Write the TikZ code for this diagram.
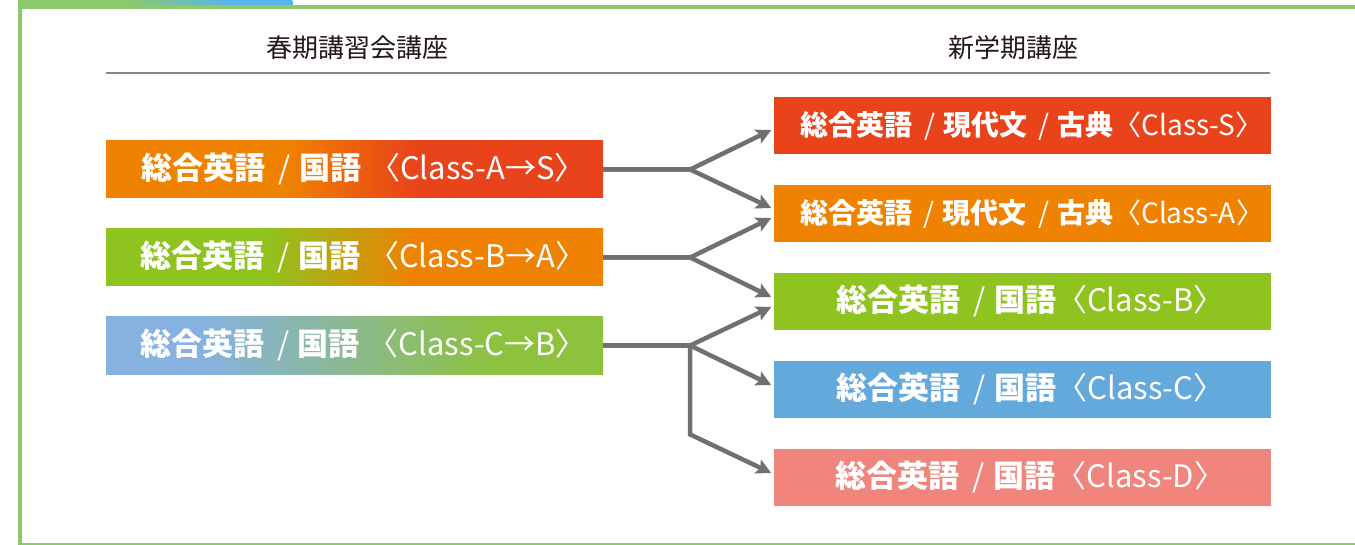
\documentclass[tikz,border=0pt]{standalone}
\usepackage{fontspec}
\setmainfont{Noto Sans CJK JP}
\usetikzlibrary{arrows.meta,calc}
\definecolor{cRed}{HTML}{E9431B}
\definecolor{cOrange}{HTML}{EF8200}
\definecolor{cGreen}{HTML}{8FC31F}
\definecolor{cBlue}{HTML}{64A9DC}
\definecolor{cPink}{HTML}{EF857D}
\definecolor{cLBlue}{HTML}{87B2E0}
\definecolor{cLGreen}{HTML}{8EC13E}
\definecolor{frameG}{HTML}{8CC96D}
\definecolor{tabB}{HTML}{5AB4E8}
\definecolor{arrowG}{HTML}{707070}
\definecolor{ruleG}{HTML}{888888}
\definecolor{headC}{HTML}{231815}
\pgfdeclarehorizontalshading{shA}{100bp}{color(0bp)=(cOrange); color(43bp)=(cOrange); color(56bp)=(cRed); color(100bp)=(cRed)}
\pgfdeclarehorizontalshading{shB}{100bp}{color(0bp)=(cGreen); color(41bp)=(cGreen); color(56bp)=(cOrange); color(100bp)=(cOrange)}
\pgfdeclarehorizontalshading{shC}{100bp}{color(0bp)=(cLBlue); color(35bp)=(cLBlue); color(64bp)=(cLGreen); color(100bp)=(cLGreen)}
\pgfdeclarehorizontalshading{shTab}{100bp}{color(0bp)=(frameG); color(45bp)=(frameG); color(63bp)=(tabB); color(100bp)=(tabB)}
\newcommand{\jb}[1]{{\bfseries #1}}
\newcommand{\slsep}{\hspace{0.42em}/\hspace{0.28em}}
\begin{document}
\begin{tikzpicture}[x=1pt,y=-1pt,
  box/.style={minimum width=497pt,minimum height=57pt,inner sep=0pt,text=white,font=\fontsize{31}{35}\selectfont},
  boxs/.style={box,font=\fontsize{28}{32}\selectfont},
  head/.style={text=headC,font=\fontsize{26}{30}\selectfont,inner sep=0pt},
  conn/.style={draw=arrowG,line width=4.5pt,-{Stealth[length=15pt,width=15pt,inset=3pt]}},
  rulel/.style={draw=ruleG,line width=1.3pt},
  framel/.style={draw=frameG,line width=3.6pt}]
\useasboundingbox (0,0) rectangle (1355,545);
% frame and tab
\coordinate (ftr) at (1360,6.8);
\coordinate (ftl) at (20,6.8);
\coordinate (fbl) at (20,544.3);
\coordinate (fbr) at (1360,544.3);
\shade[shading=shTab] (18.2,-1) rectangle (292.3,5.2);
\draw[framel] (ftr) -- (ftl) -- (fbl);
\draw[draw=frameG,line width=2.4pt] (18.2,544.3) -- (fbr);
% headings
\node[head] (h1) at (357,48) {春期講習会講座};
\node[head] (h2) at (1013,48) {新学期講座};
\coordinate (r1) at (106,73);
\coordinate (r2) at (1270,73);
\draw[rulel] (r1) -- (r2);
% left boxes
\node[box,shading=shA] (L1) at (354.5,169.5) {\hspace{18pt}\jb{総合英語}\slsep\jb{国語}\hspace{0.25em}〈Class-A→S〉};
\node[box,shading=shB] (L2) at (354.5,257.5) {\hspace{18pt}\jb{総合英語}\slsep\jb{国語}\hspace{0.25em}〈Class-B→A〉};
\node[box,shading=shC] (L3) at (354.5,345.5) {\hspace{18pt}\jb{総合英語}\slsep\jb{国語}\hspace{0.25em}〈Class-C→B〉};
% right boxes
\node[boxs,fill=cRed] (R1) at (1022,125.5) {\hspace{20pt}\jb{総合英語}\slsep\jb{現代文}\slsep\jb{古典}〈Class-S〉};
\node[boxs,fill=cOrange] (R2) at (1022,213.5) {\hspace{20pt}\jb{総合英語}\slsep\jb{現代文}\slsep\jb{古典}〈Class-A〉};
\node[box,fill=cGreen] (R3) at (1022,301.5) {\hspace{17pt}\jb{総合英語}\slsep\jb{国語}〈Class-B〉};
\node[box,fill=cBlue] (R4) at (1022,389.5) {\hspace{17pt}\jb{総合英語}\slsep\jb{国語}〈Class-C〉};
\node[box,fill=cPink] (R5) at (1022,477.5) {\hspace{17pt}\jb{総合英語}\slsep\jb{国語}〈Class-D〉};
% branch points
\coordinate (b1) at ($(L1.east)+(87,0)$);
\coordinate (b2) at ($(L2.east)+(87,0)$);
\coordinate (b3) at ($(L3.east)+(87,0)$);
\coordinate (k3) at ($(b3)+(0,89)$);
% connectors
\draw[conn] (L1.east) -- (b1) -- ($(R1.west)+(-2,4.5)$);
\draw[conn] (L1.east) -- (b1) -- ($(R2.west)+(-2,-5.5)$);
\draw[conn] (L2.east) -- (b2) -- ($(R2.west)+(-2,4.5)$);
\draw[conn] (L2.east) -- (b2) -- ($(R3.west)+(-2,-4.5)$);
\draw[conn] (L3.east) -- (b3) -- ($(R3.west)+(-2,5.5)$);
\draw[conn] (L3.east) -- (b3) -- ($(R4.west)+(-2,-4.5)$);
\draw[conn] (L3.east) -- (b3) -- (k3) -- ($(R5.west)+(-2,-4.5)$);
\end{tikzpicture}
\end{document}
